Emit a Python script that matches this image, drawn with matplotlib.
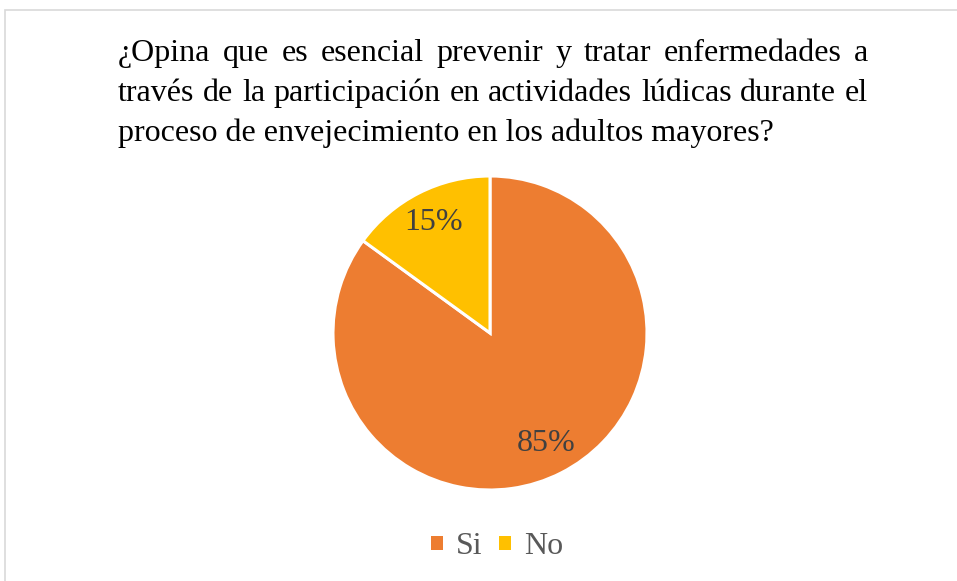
import matplotlib
matplotlib.use("Agg")
import matplotlib.pyplot as plt
from matplotlib.patches import Rectangle, Patch

labels = ["Si", "No"]
values = [85, 15]
colors = ["#ED7D31", "#FFC000"]
title_lines = [
    "¿Opina que es esencial prevenir y tratar enfermedades a",
    "través de la participación en actividades lúdicas durante el",
    "proceso de envejecimiento en los adultos mayores?",
]

plt.rcParams["font.family"] = ["Liberation Serif", "DejaVu Serif"]

W, H = 957, 581
fig = plt.figure(figsize=(W / 100, H / 100), dpi=100)

# chart frame
fig.patches.append(Rectangle((5 / W, -0.1), 1.2, 1 - 10 / H + 0.1, transform=fig.transFigure,
                             fill=False, edgecolor="#d9d9d9", lw=1.2))

# title, justified like the word processor does it
renderer = fig.canvas.get_renderer()
x_left, x_right = 118, 868
fs = 23
for i, line in enumerate(title_lines):
    y = 1 - (61 + 40 * i) / H
    words = line.split(" ")
    if i == len(title_lines) - 1:
        fig.text(x_left / W, y, line, fontsize=fs, ha="left", va="baseline")
        continue
    txts = [fig.text(0, y, w, fontsize=fs, ha="left", va="baseline") for w in words]
    widths = [t.get_window_extent(renderer).width for t in txts]
    gap = (x_right - x_left - sum(widths)) / (len(words) - 1)
    x = x_left
    for t, w in zip(txts, widths):
        t.set_x(x / W)
        x += w + gap

# pie
cx, cy, r = 490, 333, 157
ax = fig.add_axes([(cx - r) / W, 1 - (cy + r) / H, 2 * r / W, 2 * r / H])
wedges, _, autotexts = ax.pie(values, colors=colors, startangle=90, counterclock=False,
                              autopct="%1.0f%%", pctdistance=0.79,
                              wedgeprops=dict(edgecolor="white", linewidth=2.2),
                              textprops=dict(fontsize=23, color="#404040"))
ax.set_xlim(-1, 1)
ax.set_ylim(-1, 1)
ax.set_aspect("auto")
ax.axis("off")

handles = [Patch(facecolor=c, edgecolor="none") for c in colors]
fig.legend(handles, labels, loc="center", bbox_to_anchor=(497 / W, 1 - 547 / H), ncol=2,
           frameon=False, fontsize=23, labelcolor="#595959", handlelength=0.38,
           handleheight=0.26, handletextpad=0.4, columnspacing=0.5)

fig.savefig("out.png", dpi=100)
